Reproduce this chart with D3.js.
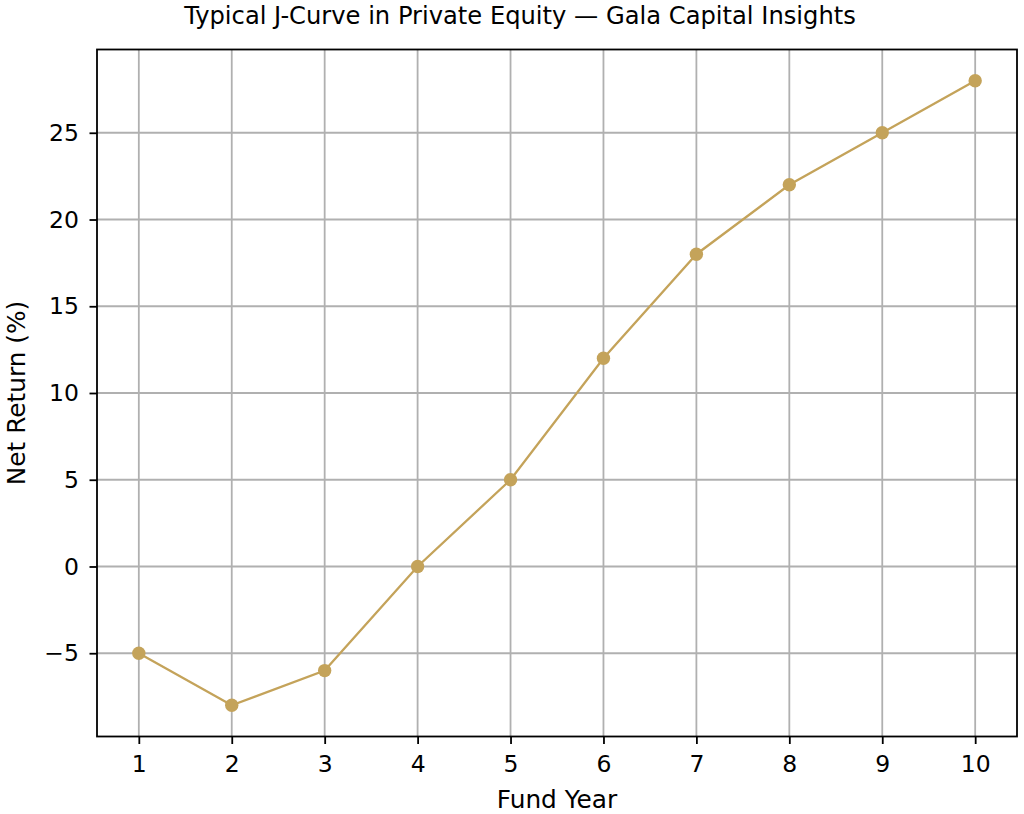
<!DOCTYPE html>
<html>
<head>
<meta charset="utf-8">
<script src="https://cdn.jsdelivr.net/npm/d3@7"></script>
<style>
  body { margin: 0; background: #fff; }
  text { font-family: "DejaVu Sans", sans-serif; fill: #000; }
</style>
</head>
<body>
<svg id="chart" width="1024" height="814"></svg>
<script>
// J-curve data
var years = [1, 2, 3, 4, 5, 6, 7, 8, 9, 10];
var netReturn = [-5, -8, -6, 0, 5, 12, 18, 22, 25, 28];
var yTicks = [-5, 0, 5, 10, 15, 20, 25];
var xTicks = years;

var titleText = "Typical J-Curve in Private Equity \u2014 Gala Capital Insights";
var xLabel = "Fund Year";
var yLabel = "Net Return (%)";

var lineColor = "#c4a35a";
var gridColor = "#b0b0b0";

// plot area (not named "top": that clashes with window.top)
var plotLeft = 97, plotRight = 1017, plotTop = 49.5, plotBottom = 736.5;

var svg = d3.select("#chart");

// matplotlib style 5% padding
var x = d3.scaleLinear().domain([0.55, 10.45]).range([plotLeft, plotRight]);
var y = d3.scaleLinear().domain([-9.8, 29.8]).range([plotBottom, plotTop]);

// grid
svg.append("g").selectAll("line")
  .data(xTicks).enter().append("line")
  .attr("x1", function(d) { return x(d); })
  .attr("x2", function(d) { return x(d); })
  .attr("y1", plotTop).attr("y2", plotBottom)
  .attr("stroke", gridColor).attr("stroke-width", 1.8);

svg.append("g").selectAll("line")
  .data(yTicks).enter().append("line")
  .attr("y1", function(d) { return y(d); })
  .attr("y2", function(d) { return y(d); })
  .attr("x1", plotLeft).attr("x2", plotRight)
  .attr("stroke", gridColor).attr("stroke-width", 1.8);

// axes
var xAxis = d3.axisBottom(x).tickValues(xTicks).tickSize(7.5).tickPadding(11).tickFormat(d3.format("d"));
var yAxis = d3.axisLeft(y).tickValues(yTicks).tickSize(7.5).tickPadding(10.5)
  .tickFormat(function(d) { return d < 0 ? "\u2212" + Math.abs(d) : d; });

var gx = svg.append("g").attr("transform", "translate(0," + plotBottom + ")").call(xAxis);
var gy = svg.append("g").attr("transform", "translate(" + plotLeft + ",0)").call(yAxis);

[gx, gy].forEach(function(g) {
  g.select(".domain").remove();
  g.selectAll(".tick line").attr("stroke", "#000").attr("stroke-width", 1.8);
  g.selectAll(".tick text").attr("font-family", "DejaVu Sans").attr("font-size", 23.5).attr("fill", "#000");
});

// line + markers
var line = d3.line()
  .x(function(d, i) { return x(years[i]); })
  .y(function(d) { return y(d); });

svg.append("path")
  .datum(netReturn)
  .attr("d", line)
  .attr("fill", "none")
  .attr("stroke", lineColor)
  .attr("stroke-width", 2.3);

svg.append("g").selectAll("circle")
  .data(netReturn).enter().append("circle")
  .attr("cx", function(d, i) { return x(years[i]); })
  .attr("cy", function(d) { return y(d); })
  .attr("r", 6.7)
  .attr("fill", lineColor);

// frame
svg.append("rect")
  .attr("x", plotLeft).attr("y", plotTop)
  .attr("width", plotRight - plotLeft).attr("height", plotBottom - plotTop)
  .attr("fill", "none").attr("stroke", "#000").attr("stroke-width", 1.8);

// labels
svg.append("text")
  .attr("x", 520).attr("y", 24)
  .attr("text-anchor", "middle").attr("font-size", 24.2)
  .text(titleText);

svg.append("text")
  .attr("x", (plotLeft + plotRight) / 2).attr("y", 808)
  .attr("text-anchor", "middle").attr("font-size", 24.8)
  .text(xLabel);

svg.append("text")
  .attr("transform", "translate(25," + (plotTop + plotBottom) / 2 + ") rotate(-90)")
  .attr("text-anchor", "middle").attr("font-size", 24.8)
  .text(yLabel);
</script>
</body>
</html>
